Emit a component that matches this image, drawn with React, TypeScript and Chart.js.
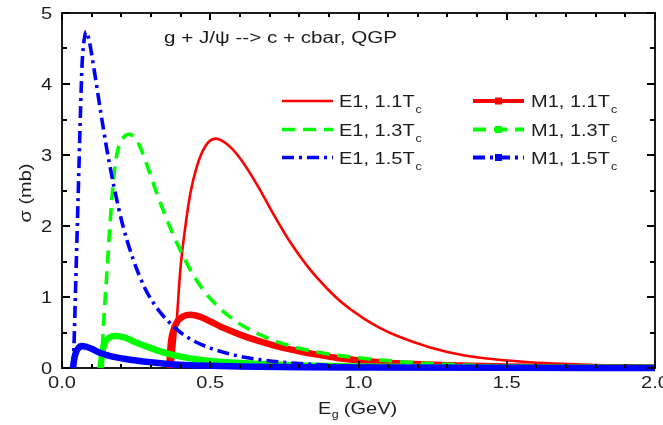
import React, { useEffect, useRef } from "react";
import { Chart, registerables } from "chart.js";

Chart.register(...registerables);

// Gluon energy E_g (GeV) and cross section sigma (mb) for each curve
const E1_11_E = [0.372, 0.38, 0.388, 0.399, 0.416, 0.433, 0.455, 0.483, 0.517, 0.557, 0.601, 0.658, 0.714, 0.77, 0.83, 0.894, 0.95, 1.017, 1.07, 1.129, 1.242, 1.354, 1.466, 1.578, 1.69, 1.8, 1.915, 2.0];
const E1_11_S = [0, 0.35, 0.73, 1.38, 1.99, 2.46, 2.84, 3.12, 3.23, 3.15, 2.95, 2.58, 2.16, 1.77, 1.42, 1.12, 0.9, 0.7, 0.57, 0.455, 0.29, 0.18, 0.12, 0.082, 0.058, 0.042, 0.031, 0.025];

const M1_11_E = [0.362, 0.366, 0.375, 0.39, 0.41, 0.433, 0.467, 0.5, 0.55, 0.6, 0.66, 0.75, 0.85, 0.94, 1.04, 1.13, 1.3, 1.5, 1.75, 2.0];
const M1_11_S = [0, 0.3, 0.52, 0.66, 0.73, 0.75, 0.72, 0.655, 0.555, 0.47, 0.385, 0.28, 0.195, 0.135, 0.095, 0.066, 0.04, 0.022, 0.012, 0.008];

const E1_13_E = [0.13, 0.136, 0.141, 0.152, 0.163, 0.175, 0.186, 0.203, 0.225, 0.245, 0.265, 0.285, 0.305, 0.325, 0.35, 0.375, 0.4, 0.44, 0.48, 0.52, 0.56, 0.62, 0.7, 0.78, 0.85, 0.93, 1.04, 1.13, 1.22, 1.32, 1.5, 1.75, 2.0];
const E1_13_S = [0, 0.3, 0.68, 1.38, 2.09, 2.7, 3.03, 3.22, 3.29, 3.25, 3.1, 2.88, 2.64, 2.4, 2.13, 1.88, 1.65, 1.33, 1.08, 0.89, 0.74, 0.57, 0.41, 0.3, 0.232, 0.178, 0.127, 0.092, 0.066, 0.047, 0.026, 0.012, 0.005];

const M1_13_E = [0.13, 0.136, 0.145, 0.16, 0.18, 0.21, 0.25, 0.3, 0.35, 0.4, 0.45, 0.5, 0.6, 0.7, 0.8, 1.0, 1.3, 1.6, 2.0];
const M1_13_S = [0, 0.22, 0.36, 0.43, 0.45, 0.43, 0.36, 0.28, 0.21, 0.16, 0.125, 0.1, 0.07, 0.05, 0.036, 0.02, 0.01, 0.006, 0.004];

const E1_15_E = [0.037, 0.041, 0.045, 0.051, 0.057, 0.063, 0.068, 0.074, 0.081, 0.09, 0.1, 0.11, 0.12, 0.13, 0.14, 0.15, 0.16, 0.175, 0.19, 0.205, 0.22, 0.24, 0.26, 0.28, 0.3, 0.33, 0.36, 0.4, 0.45, 0.5, 0.55, 0.6, 0.68, 0.77, 0.87, 1.0, 1.2, 1.5, 2.0];
const E1_15_S = [0, 0.4, 1.0, 1.9, 2.8, 3.7, 4.3, 4.6, 4.74, 4.64, 4.42, 4.16, 3.89, 3.62, 3.36, 3.11, 2.88, 2.56, 2.27, 2.01, 1.79, 1.53, 1.31, 1.12, 0.97, 0.79, 0.65, 0.5, 0.37, 0.28, 0.215, 0.165, 0.11, 0.072, 0.045, 0.025, 0.01, 0.004, 0.001];

const M1_15_E = [0.037, 0.041, 0.047, 0.055, 0.065, 0.08, 0.1, 0.13, 0.17, 0.21, 0.25, 0.3, 0.35, 0.4, 0.5, 0.6, 0.8, 1.0, 1.5, 2.0];
const M1_15_S = [0, 0.12, 0.22, 0.28, 0.31, 0.3, 0.27, 0.21, 0.16, 0.13, 0.105, 0.08, 0.06, 0.045, 0.03, 0.02, 0.01, 0.006, 0.002, 0.001];

// Axis ticks
const X_MAJOR = [0, 0.5, 1.0, 1.5, 2.0];
const X_LABELS = ["0.0", "0.5", "1.0", "1.5", "2.0"];
const Y_MAJOR = [0, 1, 2, 3, 4, 5];
const Y_LABELS = ["0", "1", "2", "3", "4", "5"];

const TITLE = "g + J/\u03c8 --> c + cbar, QGP";
const X_TITLE = "E";
const X_TITLE_SUB = "g";
const X_TITLE_REST = " (GeV)";
const Y_TITLE = "\u03c3 (mb)";

const RED = "#ff0000";
const GREEN = "#00ff00";
const BLUE = "#0000ff";
const INK = "#1c1c1c";
const FONT = '"Liberation Sans", Arial, sans-serif';
const SX = 1.25; // horizontal widening of the lettering

const DASH_E1_13 = [13, 8];
const DASH_DOT = [12, 5, 3, 5];

type Series = {
  name: string;
  sub: string;
  e: number[];
  s: number[];
  color: string;
  width: number;
  dash: number[];
  marker: boolean;
};

const SERIES: Series[] = [
  { name: "E1, 1.1T", sub: "c", e: E1_11_E, s: E1_11_S, color: RED, width: 2.6, dash: [], marker: false },
  { name: "M1, 1.1T", sub: "c", e: M1_11_E, s: M1_11_S, color: RED, width: 6.5, dash: [], marker: true },
  { name: "E1, 1.3T", sub: "c", e: E1_13_E, s: E1_13_S, color: GREEN, width: 3.6, dash: DASH_E1_13, marker: false },
  { name: "M1, 1.3T", sub: "c", e: M1_13_E, s: M1_13_S, color: GREEN, width: 6.5, dash: [], marker: true },
  { name: "E1, 1.5T", sub: "c", e: E1_15_E, s: E1_15_S, color: BLUE, width: 3.6, dash: DASH_DOT, marker: false },
  { name: "M1, 1.5T", sub: "c", e: M1_15_E, s: M1_15_S, color: BLUE, width: 6.5, dash: [], marker: true },
];

function drawText(
  ctx: CanvasRenderingContext2D,
  text: string,
  x: number,
  y: number,
  size: number,
  align: "left" | "center" | "right",
  sx: number = SX
): number {
  ctx.save();
  ctx.font = `${size}px ${FONT}`;
  const w = ctx.measureText(text).width * sx;
  const left = align === "left" ? x : align === "center" ? x - w / 2 : x - w;
  ctx.translate(left, y);
  ctx.scale(sx, 1);
  ctx.textAlign = "left";
  ctx.textBaseline = "alphabetic";
  ctx.fillStyle = INK;
  ctx.fillText(text, 0, 0);
  ctx.restore();
  return w;
}

const framePlugin = {
  id: "originFrame",
  beforeDatasetsDraw(chart: any) {
    const { ctx, chartArea: a } = chart;
    ctx.save();
    ctx.fillStyle = INK;
    const l = Math.round(a.left), r = Math.round(a.right), t = Math.round(a.top), b = Math.round(a.bottom);
    ctx.fillRect(l - 1, t - 1, r - l + 2, 2);
    ctx.fillRect(l - 1, b - 1, r - l + 2, 2);
    ctx.fillRect(l - 1, t - 1, 2, b - t + 2);
    ctx.fillRect(r - 1, t - 1, 2, b - t + 2);
    ctx.restore();
  },
  afterDatasetsDraw(chart: any) {
    const { ctx, chartArea: a, scales } = chart;
    const xs = scales.x;
    const ys = scales.y;
    ctx.save();
    ctx.fillStyle = "#000000";
    // x ticks, pointing inward from bottom and top
    for (let i = 0; i <= 20; i++) {
      const px = Math.round(xs.getPixelForValue(i / 10));
      const len = i % 5 === 0 ? 7 : 4;
      ctx.fillRect(px - 1, a.bottom - len, 2, len);
      ctx.fillRect(px - 1, a.top, 2, len);
    }
    // y ticks, pointing inward from left and right
    for (let i = 0; i <= 10; i++) {
      const py = Math.round(ys.getPixelForValue(i / 2));
      const len = i % 2 === 0 ? 8 : 5;
      ctx.fillRect(a.left, py - 1, len, 2);
      ctx.fillRect(a.right - len, py - 1, len, 2);
    }
    ctx.restore();

    // tick labels
    X_MAJOR.forEach((v, i) => {
      drawText(ctx, X_LABELS[i], xs.getPixelForValue(v), a.bottom + 20, 16, "center");
    });
    Y_MAJOR.forEach((v, i) => {
      drawText(ctx, Y_LABELS[i], a.left - 10, ys.getPixelForValue(v) + 6, 16, "right");
    });

    // axis titles
    let x0 = 318;
    x0 += drawText(ctx, X_TITLE, x0, 414, 16, "left");
    x0 += drawText(ctx, X_TITLE_SUB, x0 + 0.5, 418, 10, "left");
    drawText(ctx, X_TITLE_REST, x0, 414, 16, "left");

    ctx.save();
    ctx.translate(31, 193);
    ctx.rotate(-Math.PI / 2);
    drawText(ctx, Y_TITLE, 0, 0, 16, "center");
    ctx.restore();

    // inner title
    drawText(ctx, TITLE, 164, 43, 16.5, "left");

    // legend
    const rows = [101, 129.5, 157.5];
    const cols = [
      { l: 282, r: 333, t: 339 },
      { l: 473, r: 524, t: 531 },
    ];
    SERIES.forEach((s, idx) => {
      const row = rows[Math.floor(idx / 2)];
      const col = cols[idx % 2];
      ctx.save();
      ctx.strokeStyle = s.color;
      ctx.lineWidth = s.marker ? 4 : s.width;
      ctx.lineCap = "butt";
      const dash = idx === 3 ? DASH_E1_13 : idx === 5 ? DASH_DOT : s.dash;
      ctx.setLineDash(dash);
      ctx.beginPath();
      ctx.moveTo(col.l, row);
      ctx.lineTo(col.r, row);
      ctx.stroke();
      if (s.marker) {
        ctx.fillStyle = s.color;
        const mx = (col.l + col.r) / 2;
        ctx.fillRect(mx - 3.5, row - 3.5, 7, 7);
      }
      ctx.restore();
      const w = drawText(ctx, s.name, col.t, row + 6, 16, "left");
      drawText(ctx, s.sub, col.t + w + 1, row + 12, 10, "left");
    });
  },
};

export default function App() {
  const ref = useRef<HTMLCanvasElement | null>(null);

  useEffect(() => {
    document.body.style.margin = "0";
    const canvas = ref.current;
    if (!canvas) return;
    const chart = new Chart(canvas, {
      type: "line",
      data: {
        datasets: SERIES.map((s, i) => ({
          label: s.name + s.sub,
          data: s.e.map((x, k) => ({ x, y: s.s[k] })),
          borderColor: s.color,
          backgroundColor: s.color,
          borderWidth: s.width,
          borderDash: s.dash,
          borderCapStyle: "butt",
          borderJoinStyle: "round",
          cubicInterpolationMode: "monotone",
          pointRadius: 0,
          fill: false,
          order: SERIES.length - i,
          clip: { left: 0, top: 0, right: 0, bottom: 6 },
        })),
      },
      options: {
        animation: false,
        responsive: false,
        devicePixelRatio: 1,
        layout: { padding: { left: 62, right: 8, top: 13, bottom: 57 } },
        scales: {
          x: { type: "linear", min: 0, max: 2, display: false },
          y: { type: "linear", min: 0, max: 5, display: false },
        },
        plugins: {
          legend: { display: false },
          tooltip: { enabled: false },
        },
      },
      plugins: [framePlugin],
    } as any);
    return () => chart.destroy();
  }, []);

  return (
    <div style={{ position: "fixed", left: 0, top: 0, width: 663, height: 425, overflow: "hidden", background: "#fff" }}>
      <canvas ref={ref} width={663} height={425} style={{ width: 663, height: 425, display: "block" }} />
    </div>
  );
}
